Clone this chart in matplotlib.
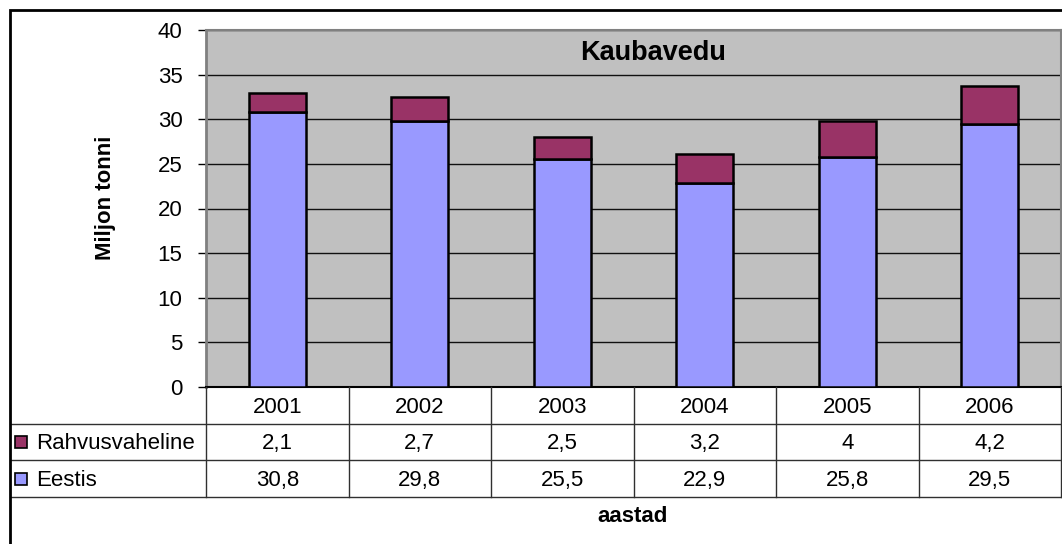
import numpy as np
import matplotlib
matplotlib.use('Agg')
import matplotlib.pyplot as plt
from matplotlib.patches import Rectangle

#%% data
years = ['2001', '2002', '2003', '2004', '2005', '2006']
eestis = [30.8, 29.8, 25.5, 22.9, 25.8, 29.5]
rahvusvaheline = [2.1, 2.7, 2.5, 3.2, 4.0, 4.2]
series_names = ['Rahvusvaheline', 'Eestis']  # order in the data table
yticks = [0, 5, 10, 15, 20, 25, 30, 35, 40]

#%% styling
plt.rcParams['font.family'] = ['Liberation Sans', 'DejaVu Sans']
c_eestis = '#9999FF'
c_rahv = '#993366'
c_back = '#C0C0C0'
fs = 16

W, H = 1062, 544
fig = plt.figure(figsize=(W / 100, H / 100), dpi=100)

# outer chart frame (runs past the right and bottom edges like the screenshot)
fig.patches.append(Rectangle((10 / W, -0.2), 1.2, 1 - 10 / H + 0.2, transform=fig.transFigure,
                             fill=False, edgecolor='black', lw=2))

# plot area in pixels
px_l, px_r, px_t, px_b = 206, 1061, 30, 387
ax = fig.add_axes([px_l / W, 1 - px_b / H, (px_r - px_l) / W, (px_b - px_t) / H])
ax.set_facecolor(c_back)

x = np.arange(len(years))
ax.bar(x, eestis, width=0.4, color=c_eestis, edgecolor='black', lw=1.8, zorder=3)
ax.bar(x, rahvusvaheline, width=0.4, bottom=eestis, color=c_rahv, edgecolor='black', lw=1.8, zorder=3)

ax.set_xlim(-0.5, len(years) - 0.5)
ax.set_ylim(0, 40)
ax.set_yticks(yticks)
ax.set_yticklabels([str(t) for t in yticks], fontsize=fs)
ax.set_xticks([])
ax.yaxis.grid(True, color='#101010', lw=1)
ax.set_axisbelow(True)
ax.tick_params(axis='y', direction='out', length=6, width=1, color='black', pad=11)
for s in ['top', 'right']:
    ax.spines[s].set_color('#808080')
    ax.spines[s].set_linewidth(1.5)
ax.spines['left'].set_color('#808080')
ax.spines['left'].set_linewidth(2)
ax.spines['bottom'].set_color('black')
ax.spines['bottom'].set_linewidth(1.5)

ax.text((653 - px_l) / (px_r - px_l), 1 - (53 - px_t) / (px_b - px_t), 'Kaubavedu',
        transform=ax.transAxes, ha='center', va='center', fontsize=19.5, fontweight='bold')

fig.text(106 / W, 1 - 198 / H, 'Miljon tonni', rotation=90, ha='center', va='center',
         fontsize=fs, fontweight='bold')
fig.text(633 / W, 1 - 517 / H, 'aastad', ha='center', va='center', fontsize=fs, fontweight='bold')

#%% data table under the plot
tb_l, tb_b = 11, 497
col_px = (px_r - px_l) / len(years)
lab_units = (px_l - tb_l) / col_px
tab = fig.add_axes([tb_l / W, 1 - tb_b / H, (px_r - tb_l) / W, (tb_b - px_b) / H])
tab.set_xlim(-0.5 - lab_units, len(years) - 0.5)
tab.set_ylim(3, 0)
tab.axis('off')

x0 = -0.5 - lab_units
x1 = len(years) - 0.5
line_kw = dict(color='#303030', lw=1, clip_on=False)
for r in [1, 2, 3]:
    tab.plot([x0, x1], [r, r], **line_kw)
for k in range(len(years) + 1):
    tab.plot([k - 0.5, k - 0.5], [0, 3], **line_kw)

for i, yr in enumerate(years):
    tab.text(i, 0.55, yr, ha='center', va='center', fontsize=fs)

rows = [rahvusvaheline, eestis]
colors = [c_rahv, c_eestis]
px_unit = 1 / col_px
row_px = (tb_b - px_b) / 3
for r, (name, vals, c) in enumerate(zip(series_names, rows, colors)):
    yc = r + 1.5
    sq = 12
    tab.add_patch(Rectangle((x0 + 4 * px_unit, yc - sq / 2 / row_px), sq * px_unit, sq / row_px,
                            facecolor=c, edgecolor='black', lw=1.2, clip_on=False))
    tab.text(x0 + 25 * px_unit, yc + 0.05, name, ha='left', va='center', fontsize=fs)
    for i, v in enumerate(vals):
        tab.text(i, yc + 0.05, f'{v:g}'.replace('.', ','), ha='center', va='center', fontsize=fs)

fig.savefig('out.png', dpi=100)
